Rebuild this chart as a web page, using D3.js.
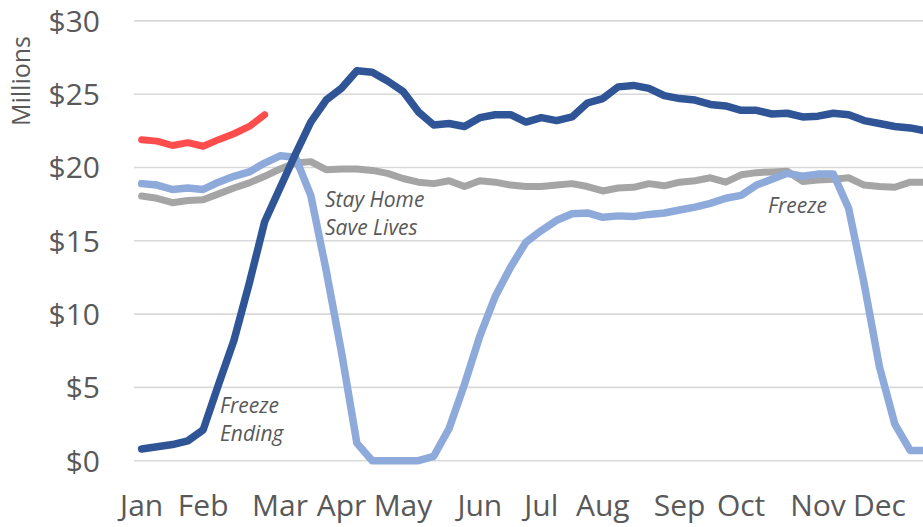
<!DOCTYPE html>
<html>
<head>
<meta charset="utf-8">
<script src="https://cdn.jsdelivr.net/npm/d3@7"></script>
<style>
  html, body { margin: 0; padding: 0; background: #fff; overflow: hidden; }
  svg { display: block; }
</style>
</head>
<body>
<svg id="chart" width="923" height="527"></svg>
<script>
// ---- data (weekly, 52 weeks) ----
const weeks = d3.range(52);
const tickWeeks  = [0, 4, 9, 13, 17, 22, 26, 30, 35, 39, 44, 48];
const tickLabels = ["Jan","Feb","Mar","Apr","May","Jun","Jul","Aug","Sep","Oct","Nov","Dec"];
const yTicks = [0, 5, 10, 15, 20, 25, 30];

const seriesGray = [18.05,17.9,17.6,17.75,17.8,18.2,18.6,18.95,19.4,19.9,20.3,20.4,19.85,19.9,19.9,19.8,19.6,19.25,19.0,18.9,
  19.1,18.7,19.1,19.0,18.8,18.7,18.7,18.8,18.9,18.7,18.4,18.6,18.65,18.9,18.75,19.0,19.1,19.3,19.0,19.5,
  19.65,19.7,19.75,19.05,19.15,19.2,19.3,18.8,18.7,18.65,19.0,19.0];
const seriesLight = [18.9,18.8,18.5,18.6,18.5,19.0,19.4,19.7,20.3,20.8,20.7,18.1,13.0,7.4,1.2,0,0,0,0,0.3,
  2.2,5.2,8.5,11.2,13.2,14.9,15.7,16.4,16.85,16.9,16.6,16.7,16.65,16.8,16.9,17.1,17.3,17.55,17.9,18.1,
  18.8,19.2,19.6,19.4,19.55,19.55,17.2,12.1,6.4,2.5,0.7,0.7];
const seriesRed = [21.9,21.8,21.5,21.7,21.45,21.9,22.3,22.8,23.6];
const seriesDark = [0.8,0.95,1.1,1.35,2.1,5.2,8.2,12.1,16.3,18.6,20.9,23.1,24.6,25.4,26.6,26.5,25.9,25.2,23.8,22.9,
  23.0,22.8,23.4,23.6,23.6,23.1,23.4,23.2,23.45,24.4,24.7,25.5,25.6,25.4,24.9,24.7,24.6,24.3,24.2,23.9,
  23.9,23.65,23.7,23.45,23.5,23.7,23.6,23.2,23.0,22.8,22.7,22.5];

const annotations = [
  {lines: ["Stay Home", "Save Lives"], x: 325, y: 207},
  {lines: ["Freeze", "Ending"], x: 220, y: 413},
  {lines: ["Freeze"], x: 768, y: 213}
];

// ---- layout ----
const svg = d3.select("#chart");
const plotLeft = 134, step = 15.37;
const x = d3.scaleBand().domain(weeks).range([plotLeft, plotLeft + step * weeks.length]).padding(0);
const cx = i => x(i) + x.bandwidth() / 2;
const y = d3.scaleLinear().domain([0, 30]).range([460.7, 20.9]);

const font = "'Open Sans', 'Noto Sans', sans-serif";
const textColor = "#595959";

// gridlines
svg.append("g").selectAll("line").data(yTicks).join("line")
  .attr("x1", plotLeft).attr("x2", 923)
  .attr("y1", d => y(d)).attr("y2", d => y(d))
  .attr("stroke", "#d9d9d9").attr("stroke-width", 1.6);

// y axis labels
svg.append("g").selectAll("text").data(yTicks).join("text")
  .attr("x", 100).attr("y", d => y(d)).attr("dy", "0.36em")
  .attr("text-anchor", "end")
  .attr("font-family", font).attr("font-size", 30).attr("fill", textColor)
  .text(d => "$" + d);

// y axis title
svg.append("text")
  .attr("transform", "translate(30,81) rotate(-90)")
  .attr("text-anchor", "middle")
  .attr("font-family", font).attr("font-size", 25).attr("fill", textColor)
  .text("Millions");

// x axis labels
svg.append("g").selectAll("text").data(tickWeeks).join("text")
  .attr("x", d => cx(d)).attr("y", 516)
  .attr("text-anchor", "middle")
  .attr("font-family", font).attr("font-size", 30).attr("fill", textColor)
  .text((d, i) => tickLabels[i]);

// lines
const line = d3.line().x((d, i) => cx(i)).y(d => y(d));
const series = [
  {data: seriesGray,  color: "#a5a5a5", w: 7},
  {data: seriesLight, color: "#8eaadb", w: 7.5},
  {data: seriesRed,   color: "#ff4d4d", w: 7},
  {data: seriesDark,  color: "#2f5597", w: 7.5}
];
svg.append("g").selectAll("path").data(series).join("path")
  .attr("d", d => line(d.data))
  .attr("fill", "none")
  .attr("stroke", d => d.color)
  .attr("stroke-width", d => d.w)
  .attr("stroke-linejoin", "round")
  .attr("stroke-linecap", "round");

// annotations
const ann = svg.append("g");
annotations.forEach(a => {
  a.lines.forEach((t, k) => {
    ann.append("text")
      .attr("x", a.x).attr("y", a.y + k * 28)
      .attr("font-family", font).attr("font-style", "italic")
      .attr("font-size", 21).attr("fill", textColor)
      .text(t);
  });
});
</script>
</body>
</html>
